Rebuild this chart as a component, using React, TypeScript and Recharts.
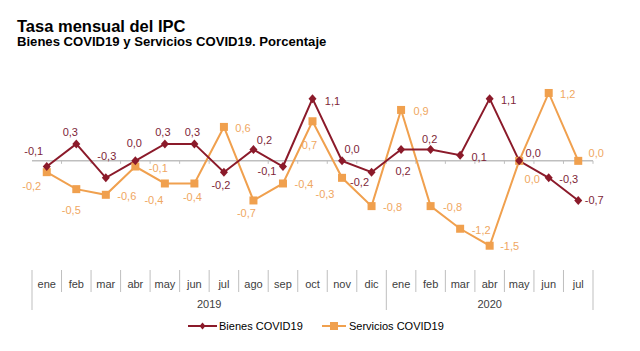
import { LineChart, Line, XAxis, YAxis, ReferenceLine, LabelList } from "recharts";

const MONTHS = ["ene", "feb", "mar", "abr", "may", "jun", "jul", "ago", "sep", "oct", "nov", "dic", "ene", "feb", "mar", "abr", "may", "jun", "jul"];
const YEARS = [
  { label: "2019", start: 0, count: 12 },
  { label: "2020", start: 12, count: 7 },
];
const BIENES = [-0.1, 0.3, -0.3, 0.0, 0.3, 0.3, -0.2, 0.2, -0.1, 1.1, 0.0, -0.2, 0.2, 0.2, 0.1, 1.1, 0.0, -0.3, -0.7];
const SERVICIOS = [-0.2, -0.5, -0.6, -0.1, -0.4, -0.4, 0.6, -0.7, -0.4, 0.7, -0.3, -0.8, 0.9, -0.8, -1.2, -1.5, 0.0, 1.2, 0.0];

// where each data label sits relative to its point (like the hand-placed labels in the original)
const BIENES_LABEL_OFFSET = [
  [-13, -16], [-6, -12], [1, -22], [-1, -18], [-2, -12], [-2, -12], [-3, 13], [11, -10], [-16, 4], [20, 2],
  [10, -12], [-12, 10], [2, 21], [-1, -11], [19, 2], [19, 1], [14, -8], [20, 1], [16, 0],
];
const SERVICIOS_LABEL_OFFSET = [
  [-15, 14], [-5, 21], [21, 1], [23, 1], [-11, 17], [-2, 14], [19, 1], [-7, 13], [21, 1], [-3, 24],
  [-17, 16], [21, 1], [20, 1], [22, 1], [21, 1], [20, 0], [13, 18], [19, 1], [18, -8],
];

const RED = "#8B1A2A";
const RED_TEXT = "#7E1F38";
const ORANGE = "#F0A04E";
const ORANGE_TEXT = "#EFA762";
const GRAY = "#BFBFBF";
const FONT = "'Liberation Sans', Arial, sans-serif";

const W = 624;
const H = 343;
const MARGIN = { top: 68, right: 39, bottom: 27, left: 24 };
const BAND = (W - MARGIN.left - MARGIN.right) / MONTHS.length;

const data = MONTHS.map((m, i) => ({ k: i, month: m, bienes: BIENES[i], servicios: SERVICIOS[i] }));

const fmt = (v: number) => v.toFixed(1).replace(".", ",");

function MonthTick(props: any) {
  const { x, y, payload } = props;
  const i = payload.value as number;
  const left = x - BAND / 2;
  const year = YEARS.find((yr) => yr.start === i);
  return (
    <g>
      <line x1={left} x2={left} y1={y - 4} y2={year ? y + 36 : y + 18} stroke={GRAY} />
      {i === MONTHS.length - 1 && (
        <line x1={x + BAND / 2} x2={x + BAND / 2} y1={y - 4} y2={y + 36} stroke={GRAY} />
      )}
      <text x={x} y={y + 14} textAnchor="middle" fontSize={11} fill="#404040" fontFamily={FONT}>
        {MONTHS[i]}
      </text>
      {year && (
        <text x={left + (year.count * BAND) / 2} y={y + 34} textAnchor="middle" fontSize={11} fill="#404040" fontFamily={FONT}>
          {year.label}
        </text>
      )}
    </g>
  );
}

function ZeroLine(props: any) {
  const { x1, y1, x2 } = props;
  const band = (x2 - x1) / MONTHS.length;
  return (
    <g>
      <line x1={x1} x2={x2} y1={y1} y2={y1} stroke={GRAY} strokeWidth={1.5} />
      {MONTHS.map((_, i) => (
        <line key={i} x1={x1 + band * (i + 1)} x2={x1 + band * (i + 1)} y1={y1} y2={y1 + 3} stroke={GRAY} />
      ))}
    </g>
  );
}

function Diamond(props: any) {
  const { cx, cy, index } = props;
  if (cx == null || cy == null) return <g key={index} />;
  return <path key={index} d={`M${cx},${cy - 4.5}L${cx + 4},${cy}L${cx},${cy + 4.5}L${cx - 4},${cy}Z`} fill={RED} />;
}

function Square(props: any) {
  const { cx, cy, index } = props;
  if (cx == null || cy == null) return <g key={index} />;
  return <rect key={index} x={cx - 4} y={cy - 4} width={8} height={8} fill={ORANGE} />;
}

function labelRenderer(offsets: number[][], color: string) {
  return (p: any) => {
    const { x, y, value, index } = p;
    const [dx, dy] = offsets[index] ?? [0, -12];
    return (
      <text x={x + dx} y={y + dy} textAnchor="middle" dominantBaseline="central" fontSize={11} fill={color} fontFamily={FONT}>
        {fmt(value)}
      </text>
    );
  };
}

export default function App() {
  return (
    <div style={{ position: "relative", width: W, height: H, fontFamily: FONT }}>
      <LineChart width={W} height={H} data={data} margin={MARGIN}>
        <XAxis
          dataKey="k"
          height={50}
          axisLine={false}
          tickLine={false}
          tickSize={0}
          tickMargin={0}
          interval={0}
          padding={{ left: BAND / 2, right: BAND / 2 }}
          tick={<MonthTick />}
        />
        <YAxis hide domain={[-2, 1.5]} />
        <ReferenceLine y={0} shape={<ZeroLine />} />
        <Line
          dataKey="servicios"
          stroke={ORANGE}
          strokeWidth={2}
          dot={<Square />}
          activeDot={false}
          isAnimationActive={false}
        >
          <LabelList dataKey="servicios" content={labelRenderer(SERVICIOS_LABEL_OFFSET, ORANGE_TEXT)} />
        </Line>
        <Line
          dataKey="bienes"
          stroke={RED}
          strokeWidth={2}
          dot={<Diamond />}
          activeDot={false}
          isAnimationActive={false}
        >
          <LabelList dataKey="bienes" content={labelRenderer(BIENES_LABEL_OFFSET, RED_TEXT)} />
        </Line>
      </LineChart>

      <svg width={W} height={H} style={{ position: "absolute", left: 0, top: 0, pointerEvents: "none" }}>
        <text x={9} y={24} fontSize={16.5} fontWeight="bold" fill="#000" fontFamily={FONT}>
          Tasa mensual del IPC
        </text>
        <text x={9} y={38} fontSize={13.1} fontWeight="bold" fill="#000" fontFamily={FONT}>
          Bienes COVID19 y Servicios COVID19. Porcentaje
        </text>

        <line x1={180} x2={209} y1={318} y2={318} stroke={RED} strokeWidth={2} />
        <path d="M194.5,314.5L197.5,318L194.5,321.5L191.5,318Z" fill={RED} />
        <text x={211} y={322} fontSize={11} fill="#000" fontFamily={FONT}>
          Bienes COVID19
        </text>

        <line x1={314} x2={338} y1={318} y2={318} stroke={ORANGE} strokeWidth={2} />
        <rect x={322} y={314} width={8} height={8} fill={ORANGE} />
        <text x={341} y={322} fontSize={11} fill="#000" fontFamily={FONT}>
          Servicios COVID19
        </text>
      </svg>
    </div>
  );
}
